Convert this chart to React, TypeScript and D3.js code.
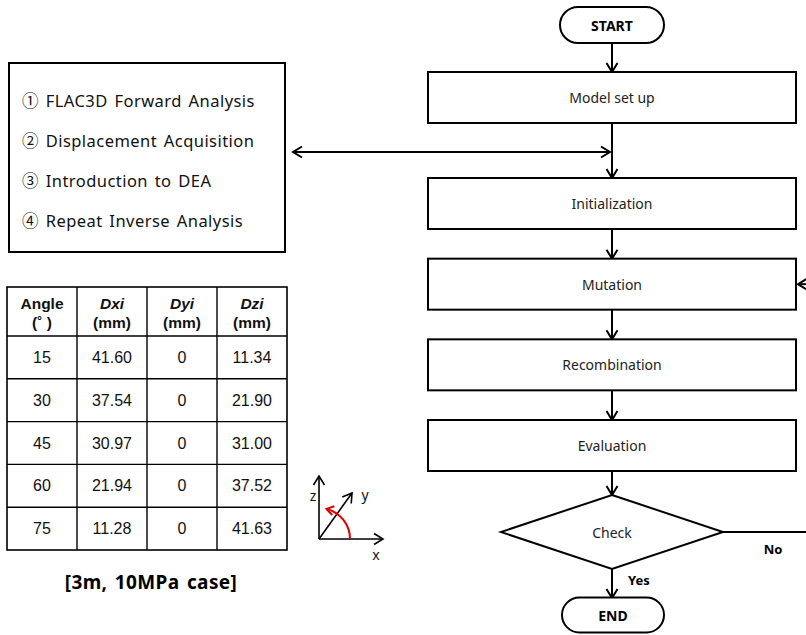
import React from "react";
import * as d3 from "d3";

const leftItems = [
  "① FLAC3D Forward Analysis",
  "② Displacement Acquisition",
  "③ Introduction to DEA",
  "④ Repeat Inverse Analysis",
];
const headerTop = ["Angle", "Dxi", "Dyi", "Dzi"];
const headerBottom = ["(˚ )", "(mm)", "(mm)", "(mm)"];
const angles = ["15", "30", "45", "60", "75"];
const dxi = ["41.60", "37.54", "30.97", "21.94", "11.28"];
const dyi = ["0", "0", "0", "0", "0"];
const dzi = ["11.34", "21.90", "31.00", "37.52", "41.63"];
const caption = "[3m, 10MPa case]";
const steps = ["Initialization", "Mutation", "Recombination", "Evaluation"];

const W = 806;
const H = 635;
const CX = 612;
const BOX_L = 428;
const BOX_R = 796;
const BOX_H = 51;
const SW = 2;

function arrowHead(tx: number, ty: number, dx: number, dy: number, len = 9, half = 5.5) {
  const bx = tx - dx * len;
  const by = ty - dy * len;
  const px = -dy;
  const py = dx;
  return `M${bx + px * half},${by + py * half}L${tx},${ty}L${bx - px * half},${by - py * half}`;
}

function Arrow({ x1, y1, x2, y2, color = "#000", width = SW }: any) {
  const L = Math.hypot(x2 - x1, y2 - y1);
  const dx = (x2 - x1) / L;
  const dy = (y2 - y1) / L;
  return (
    <g stroke={color} strokeWidth={width} fill="none">
      <line x1={x1} y1={y1} x2={x2} y2={y2} />
      <path d={arrowHead(x2, y2, dx, dy)} strokeLinejoin="miter" />
    </g>
  );
}

function Pill({ cx, cy, w, h, label }: any) {
  return (
    <g>
      <rect x={cx - w / 2} y={cy - h / 2} width={w} height={h} rx={h / 2} ry={h / 2} fill="#fff" stroke="#000" strokeWidth={SW} />
      <text x={cx} y={cy} textAnchor="middle" dominantBaseline="central" fontFamily="'Noto Sans', sans-serif" fontWeight="bold" fontSize={14}>
        {label}
      </text>
    </g>
  );
}

export default function App() {
  const stepY = d3.scalePoint<string>().domain(steps).range([178, 420]);
  const modelTop = 72;

  const cols = d3.scaleBand<number>().domain([0, 1, 2, 3]).range([7, 287]);
  const rows = d3.scaleBand<number>().domain(d3.range(angles.length)).range([336, 550]);
  const tableTop = 287;
  const columns = [angles, dxi, dyi, dzi];

  const ox = 319, oy = 539;
  const arcR = 31;
  const arcGen = d3.arc();
  const arcEndAngle = (76 * Math.PI) / 180;
  const arcPath = arcGen({ innerRadius: arcR, outerRadius: arcR, startAngle: Math.PI / 2, endAngle: Math.PI / 2 - arcEndAngle } as any) as string;
  const ex = ox + arcR * Math.cos(arcEndAngle);
  const ey = oy - arcR * Math.sin(arcEndAngle);
  const tdx = -Math.sin(arcEndAngle);
  const tdy = -Math.cos(arcEndAngle);

  const diamond = { cx: CX, cy: 532, hw: 111, hh: 37 };
  const font = "'Noto Sans', 'Noto Sans CJK KR', sans-serif";

  return (
    <svg width={W} height={H} style={{ position: "absolute", left: 0, top: 0, background: "#fff" }}>
      <rect width={W} height={H} fill="#fff" />

      {/* Left list box */}
      <rect x={9} y={63} width={276} height={189} fill="none" stroke="#000" strokeWidth={SW} />
      {leftItems.map((t, i) => (
        <text key={t} x={22} y={100 + i * 40.3} dominantBaseline="central" fontFamily="'Noto Sans', 'Noto Sans CJK KR', sans-serif" fontSize={16.5} letterSpacing={0.45} wordSpacing={2} fill="#111">
          {t}
        </text>
      ))}

      {/* Table */}
      <g fontFamily="'Liberation Sans', Arial, sans-serif" fill="#111">
        <rect x={7} y={tableTop} width={280} height={550 - tableTop} fill="none" stroke="#000" strokeWidth={1.6} />
        {[1, 2, 3].map((c) => (
          <line key={c} x1={cols(c)} x2={cols(c)} y1={tableTop} y2={550} stroke="#000" strokeWidth={1.4} />
        ))}
        {d3.range(angles.length).map((r) => (
          <line key={r} x1={7} x2={287} y1={rows(r)} y2={rows(r)} stroke="#000" strokeWidth={1.4} />
        ))}
        {headerTop.map((h, c) => (
          <g key={h}>
            <text x={(cols(c) as number) + cols.bandwidth() / 2} y={303} textAnchor="middle" dominantBaseline="central" fontWeight="bold" fontStyle={c > 0 ? "italic" : "normal"} fontSize={15.5}>
              {h}
            </text>
            <text x={(cols(c) as number) + cols.bandwidth() / 2} y={322} textAnchor="middle" dominantBaseline="central" fontWeight="bold" fontSize={15.5}>
              {headerBottom[c]}
            </text>
          </g>
        ))}
        {columns.map((col, c) =>
          col.map((v, r) => (
            <text key={`${c}-${r}`} x={(cols(c) as number) + cols.bandwidth() / 2} y={(rows(r) as number) + rows.bandwidth() / 2} textAnchor="middle" dominantBaseline="central" fontSize={16}>
              {v}
            </text>
          ))
        )}
      </g>
      <text x={151} y={582} textAnchor="middle" dominantBaseline="central" fontFamily="'Noto Sans', sans-serif" fontWeight="bold" fontSize={19} letterSpacing={0.4} wordSpacing={2}>
        {caption}
      </text>

      {/* Axis icon */}
      <Arrow x1={ox} y1={oy} x2={ox} y2={476} width={1.6} />
      <Arrow x1={ox} y1={oy} x2={383} y2={oy} width={1.6} />
      <Arrow x1={ox} y1={oy} x2={352} y2={493} width={1.6} />
      <path d={arcPath} transform={`translate(${ox},${oy})`} fill="none" stroke="#e00000" strokeWidth={2} />
      <path d={arrowHead(ex, ey, tdx, tdy, 7, 4.5)} fill="none" stroke="#e00000" strokeWidth={2} />
      <g fontFamily="'Noto Sans', sans-serif" fontSize={14} fill="#111">
        <text x={313} y={495} textAnchor="middle" dominantBaseline="central">z</text>
        <text x={365} y={494} textAnchor="middle" dominantBaseline="central">y</text>
        <text x={376} y={554} textAnchor="middle" dominantBaseline="central">x</text>
      </g>

      {/* Flowchart */}
      <Pill cx={CX} cy={25} w={104} h={36} label="START" />
      <Arrow x1={CX} y1={43} x2={CX} y2={modelTop} />
      <rect x={BOX_L} y={modelTop} width={BOX_R - BOX_L} height={BOX_H} fill="#fff" stroke="#000" strokeWidth={SW} />
      <text x={CX} y={modelTop + BOX_H / 2} textAnchor="middle" dominantBaseline="central" fontFamily={font} fontSize={14} fill="#222">
        Model set up
      </text>
      <Arrow x1={CX} y1={modelTop + BOX_H} x2={CX} y2={stepY(steps[0]) as number} />
      <Arrow x1={360} y1={152} x2={CX - 2} y2={152} />
      <Arrow x1={400} y1={152} x2={293} y2={152} />

      {steps.map((s, i) => {
        const y = stepY(s) as number;
        const next = i < steps.length - 1 ? (stepY(steps[i + 1]) as number) : diamond.cy - diamond.hh;
        return (
          <g key={s}>
            <rect x={BOX_L} y={y} width={BOX_R - BOX_L} height={BOX_H} fill="#fff" stroke="#000" strokeWidth={SW} />
            <text x={CX} y={y + BOX_H / 2} textAnchor="middle" dominantBaseline="central" fontFamily={font} fontSize={14} fill="#222">
              {s}
            </text>
            <Arrow x1={CX} y1={y + BOX_H} x2={CX} y2={next} />
          </g>
        );
      })}

      <Arrow x1={W + 2} y1={(stepY(steps[1]) as number) + BOX_H / 2} x2={BOX_R + 2} y2={(stepY(steps[1]) as number) + BOX_H / 2} />

      <path
        d={`M${diamond.cx},${diamond.cy - diamond.hh}L${diamond.cx + diamond.hw},${diamond.cy}L${diamond.cx},${diamond.cy + diamond.hh}L${diamond.cx - diamond.hw},${diamond.cy}Z`}
        fill="#fff"
        stroke="#000"
        strokeWidth={SW}
        strokeLinejoin="miter"
      />
      <text x={diamond.cx} y={diamond.cy} textAnchor="middle" dominantBaseline="central" fontFamily={font} fontSize={14} fill="#222">
        Check
      </text>
      <line x1={diamond.cx + diamond.hw} y1={diamond.cy} x2={W} y2={diamond.cy} stroke="#000" strokeWidth={SW} />
      <text x={773} y={549} textAnchor="middle" dominantBaseline="central" fontFamily="'Noto Sans', sans-serif" fontWeight="bold" fontSize={13}>
        No
      </text>
      <Arrow x1={CX} y1={diamond.cy + diamond.hh} x2={CX} y2={598} />
      <text x={628} y={580} dominantBaseline="central" fontFamily="'Noto Sans', sans-serif" fontWeight="bold" fontSize={13}>
        Yes
      </text>
      <Pill cx={CX + 1} cy={615} w={102} h={35} label="END" />
    </svg>
  );
}
